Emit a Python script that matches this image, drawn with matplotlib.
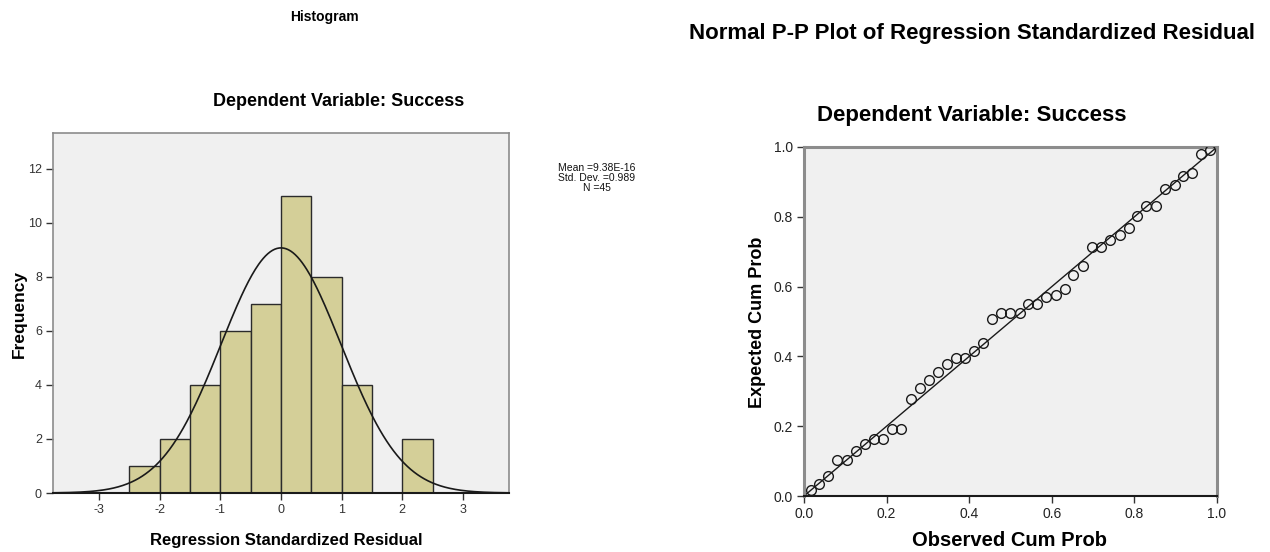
import numpy as np
import matplotlib
matplotlib.use("Agg")
import matplotlib.pyplot as plt

# ---- data ----
bin_edges = [-2.5, -2.0, -1.5, -1.0, -0.5, 0.0, 0.5, 1.0, 1.5, 2.0, 2.5]
counts = [1, 2, 4, 6, 7, 11, 8, 4, 0, 2]
mean_val = 9.38e-16
sd_val = 0.989
n_val = 45
hist_xticks = [-3, -2, -1, 0, 1, 2, 3]
hist_yticks = [0, 2, 4, 6, 8, 10, 12]

observed = [0.016, 0.037, 0.059, 0.079, 0.103, 0.126, 0.148, 0.169, 0.192, 0.214,
            0.236, 0.258, 0.281, 0.302, 0.325, 0.347, 0.369, 0.391, 0.412, 0.434,
            0.456, 0.478, 0.500, 0.523, 0.543, 0.565, 0.587, 0.610, 0.631, 0.652,
            0.676, 0.698, 0.720, 0.742, 0.765, 0.786, 0.807, 0.829, 0.852, 0.873,
            0.898, 0.918, 0.940, 0.962, 0.984]
expected = [0.016, 0.035, 0.057, 0.104, 0.102, 0.129, 0.150, 0.164, 0.164, 0.193,
            0.193, 0.279, 0.309, 0.331, 0.355, 0.379, 0.395, 0.395, 0.415, 0.438,
            0.508, 0.524, 0.524, 0.524, 0.549, 0.549, 0.570, 0.575, 0.594, 0.634,
            0.659, 0.713, 0.713, 0.734, 0.749, 0.769, 0.801, 0.830, 0.830, 0.881,
            0.890, 0.917, 0.926, 0.981, 0.990]
ref_line = [0.0, 1.0]
pp_ticks = [0.0, 0.2, 0.4, 0.6, 0.8, 1.0]

plt.rcParams['font.family'] = ['Liberation Sans', 'DejaVu Sans']

W, H = 1270, 552
fig = plt.figure(figsize=(W / 100, H / 100), dpi=100)
fig.patch.set_facecolor('white')

def ax_rect(l, r, t, b):
    return [l / W, (H - b) / H, (r - l) / W, (b - t) / H]

bg = '#F0F0F0'
frame_gray = '#8C8C8C'

# ---- Histogram ----
ax1 = fig.add_axes(ax_rect(53, 509, 133, 493))
ax1.set_facecolor(bg)
widths = np.diff(bin_edges)
ax1.bar(bin_edges[:-1], counts, width=widths, align='edge',
        color='#D4CF98', edgecolor='#2B2B2B', linewidth=1.0, zorder=2)
xs = np.linspace(-3.76, 3.76, 400)
bw = bin_edges[1] - bin_edges[0]
ys = n_val * bw / (sd_val * np.sqrt(2 * np.pi)) * np.exp(-0.5 * ((xs - mean_val) / sd_val) ** 2)
ax1.plot(xs, ys, color='#1A1A1A', linewidth=1.2, zorder=3)
ax1.set_xlim(-3.76, 3.76)
ax1.set_ylim(0, 13.33)
ax1.set_xticks(hist_xticks)
ax1.set_yticks(hist_yticks)
ax1.set_xticklabels([str(v) for v in hist_xticks])
ax1.set_yticklabels([str(v) for v in hist_yticks])
ax1.tick_params(direction='out', length=5, width=1, colors='#333333', labelsize=9,
                labelcolor='#333333', pad=3)
for s in ['top', 'right', 'left']:
    ax1.spines[s].set_color(frame_gray)
    ax1.spines[s].set_linewidth(1.2)
ax1.spines['bottom'].set_color('#1A1A1A')
ax1.spines['bottom'].set_linewidth(1.5)

fig.text(324 / W, 1 - 17 / H, 'Histogram', ha='center', va='center',
         fontsize=10, fontweight='bold')
fig.text(339 / W, 1 - 102 / H, 'Dependent Variable: Success', ha='center', va='center',
         fontsize=13, fontweight='bold')
fig.text(286 / W, 1 - 540 / H, 'Regression Standardized Residual', ha='center', va='center',
         fontsize=12, fontweight='bold')
fig.text(19 / W, 1 - 314 / H, 'Frequency', ha='center', va='center', rotation=90,
         fontsize=12.5, fontweight='bold')
fig.text(597 / W, 1 - 178 / H,
         'Mean =%.2E\nStd. Dev. =%.3f\nN =%d' % (mean_val, sd_val, n_val),
         ha='center', va='center', fontsize=7.5, linespacing=1.0, color='#111111')

# ---- P-P plot ----
ax2 = fig.add_axes(ax_rect(804, 1217, 147, 496))
ax2.set_facecolor(bg)
ax2.plot(ref_line, ref_line, color='#1A1A1A', linewidth=1.0, zorder=2)
ax2.plot(observed, expected, linestyle='none', marker='o', markersize=7,
         markerfacecolor='none', markeredgecolor='#1A1A1A', markeredgewidth=1.0, zorder=3)
ax2.set_xlim(0, 1)
ax2.set_ylim(0, 1)
ax2.set_xticks(pp_ticks)
ax2.set_yticks(pp_ticks)
ax2.set_xticklabels(['%.1f' % v for v in pp_ticks])
ax2.set_yticklabels(['%.1f' % v for v in pp_ticks])
ax2.tick_params(direction='out', length=5, width=1, colors='#333333', labelsize=10,
                labelcolor='#222222', pad=3)
for s in ['top', 'right', 'left']:
    ax2.spines[s].set_color(frame_gray)
    ax2.spines[s].set_linewidth(2.2)
ax2.spines['bottom'].set_color('#1A1A1A')
ax2.spines['bottom'].set_linewidth(1.5)

fig.text(972 / W, 1 - 33 / H, 'Normal P-P Plot of Regression Standardized Residual',
         ha='center', va='center', fontsize=16, fontweight='bold')
fig.text(972 / W, 1 - 116 / H, 'Dependent Variable: Success', ha='center', va='center',
         fontsize=16, fontweight='bold')
fig.text(1010 / W, 1 - 541 / H, 'Observed Cum Prob', ha='center', va='center',
         fontsize=14.5, fontweight='bold')
fig.text(757 / W, 1 - 322 / H, 'Expected Cum Prob', ha='center', va='center', rotation=90,
         fontsize=13, fontweight='bold')

fig.savefig('out.png', dpi=100, facecolor='white')
